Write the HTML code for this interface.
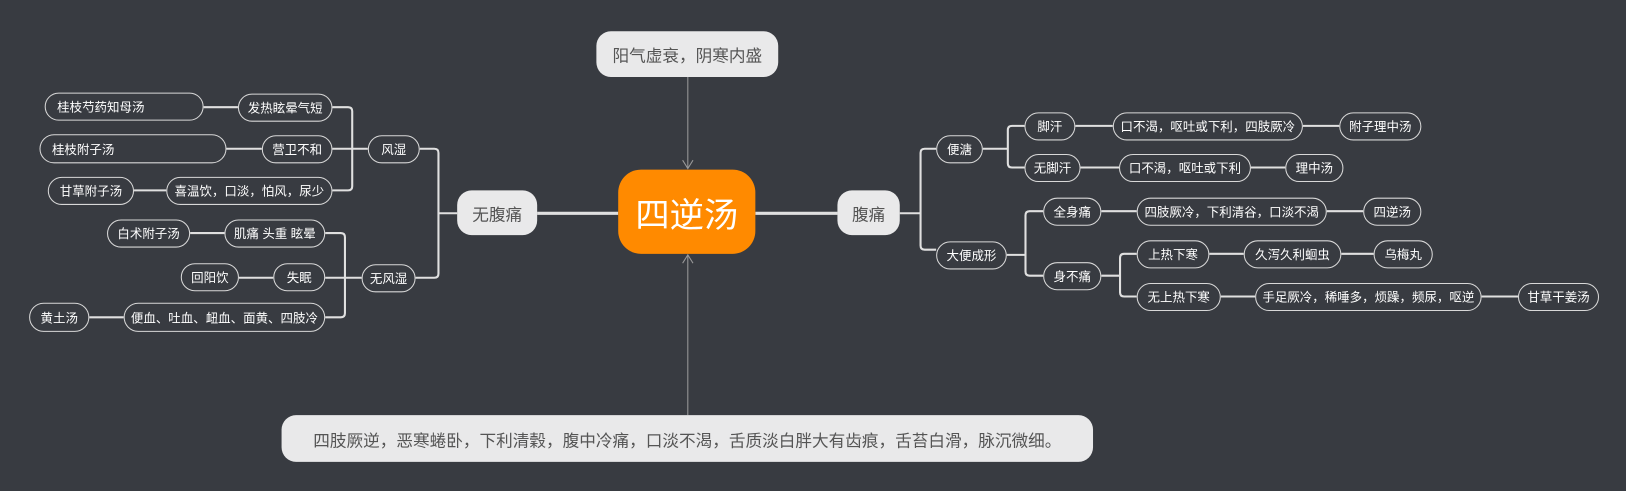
<!DOCTYPE html>
<html><head><meta charset="utf-8"><style>
html,body{margin:0;padding:0;background:#383b41;width:1626px;height:491px;overflow:hidden}
#w{position:absolute;left:0;top:0;width:1565px;height:472px;transform:scale(1.039,1.0403);transform-origin:0 0;font-family:"Liberation Sans","Noto Sans CJK SC",sans-serif}
.n{position:absolute;box-sizing:border-box;border:1px solid #d8d8d8;border-radius:14px;color:#fff;font-size:12px;display:flex;align-items:center;justify-content:center;white-space:nowrap;background:#383b41}
.l{justify-content:flex-start;padding-left:11px}
.b{position:absolute;box-sizing:border-box;background:#e9e9ea;color:#555;display:flex;align-items:center;justify-content:center;white-space:nowrap}
svg{position:absolute;left:0;top:0}
</style></head><body><div id="w">
<svg width="1565" height="472">
<g stroke="#e0e0e0" stroke-width="2" fill="none">
<line x1="517" y1="205" x2="595" y2="205" stroke-width="3"/>
<line x1="727" y1="205" x2="806" y2="205" stroke-width="3"/>
<path d="M440 205H422M404 143H418Q422 143 422 147V263Q422 267 418 267H400"/>
<path d="M354 143H320M320 103H335Q339 103 339 107V179Q339 183 335 183H320"/>
<path d="M196 103H229M218 143H252M129 183H160"/>
<path d="M348 267H313M313 224H328Q332 224 332 228V301Q332 305 328 305H313"/>
<path d="M183 224H216M230 267H263M86 305H119"/>
<path d="M866 205H886M901 143H890Q886 143 886 147V236Q886 240 890 240H901"/>
<path d="M946 143H970M986 121H974Q970 121 970 125V157Q970 161 974 161H986"/>
<path d="M1035 121H1071M1254 121H1289M1040 161H1077M1204 161H1237"/>
<path d="M969 245H987M1004 203H991Q987 203 987 207V261Q987 265 991 265H1004"/>
<path d="M1060 203H1094M1277 203H1312"/>
<path d="M1060 265H1078M1094 244H1082Q1078 244 1078 248V281Q1078 285 1082 285H1094"/>
<path d="M1164 244H1197M1291 244H1322M1175 285H1208M1426 285H1461"/>
</g>
<g stroke="#9a9a9a" stroke-width="1" fill="none">
<line x1="662" y1="74" x2="662" y2="162"/><line x1="662" y1="399" x2="662" y2="245"/>
<path d="M657 154L662 162L667 154M657 253L662 245L667 253"/>
</g>
</svg>
<div class="b" style="left:574px;top:30px;width:175px;height:44px;border-radius:14px;font-size:16px">阳气虚衰，阴寒内盛</div>
<div class="b" style="left:271px;top:399px;width:781px;height:45px;border-radius:14px;font-size:16px">四肢厥逆，恶寒蜷卧，下利清穀，腹中冷痛，口淡不渴，舌质淡白胖大有齿痕，舌苔白滑，脉沉微细。</div>
<div class="b" style="left:595px;top:163px;width:132px;height:81px;border-radius:22px;background:#ff8a00;color:#fff;font-size:33px">四逆汤</div>
<div class="b" style="left:440px;top:183px;width:77px;height:43px;border-radius:14px;font-size:16px">无腹痛</div>
<div class="b" style="left:806px;top:183px;width:60px;height:43px;border-radius:14px;font-size:16px">腹痛</div>

<div class="n" style="left:354px;top:130px;width:50px;height:27px">风湿</div>
<div class="n" style="left:348px;top:254px;width:52px;height:27px">无风湿</div>
<div class="n" style="left:229px;top:90px;width:91px;height:27px">发热眩晕气短</div>
<div class="n" style="left:252px;top:130px;width:68px;height:27px">营卫不和</div>
<div class="n" style="left:160px;top:170px;width:160px;height:27px">喜温饮，口淡，怕风，尿少</div>
<div class="n l" style="left:43px;top:89px;width:153px;height:27px">桂枝芍药知母汤</div>
<div class="n l" style="left:38px;top:129px;width:180px;height:28px">桂枝附子汤</div>
<div class="n" style="left:46px;top:170px;width:83px;height:27px">甘草附子汤</div>
<div class="n" style="left:216px;top:211px;width:97px;height:27px">肌痛 头重 眩晕</div>
<div class="n" style="left:263px;top:253px;width:50px;height:27px">失眠</div>
<div class="n" style="left:119px;top:291px;width:194px;height:28px">便血、吐血、衄血、面黄、四肢冷</div>
<div class="n" style="left:103px;top:211px;width:80px;height:27px">白术附子汤</div>
<div class="n" style="left:174px;top:253px;width:56px;height:27px">回阳饮</div>
<div class="n" style="left:28px;top:291px;width:58px;height:28px">黄土汤</div>

<div class="n" style="left:901px;top:130px;width:45px;height:27px">便溏</div>
<div class="n" style="left:901px;top:232px;width:68px;height:27px">大便成形</div>
<div class="n" style="left:986px;top:108px;width:49px;height:27px">脚汗</div>
<div class="n" style="left:986px;top:148px;width:54px;height:27px">无脚汗</div>
<div class="n" style="left:1071px;top:108px;width:183px;height:27px">口不渴，呕吐或下利，四肢厥冷</div>
<div class="n" style="left:1289px;top:108px;width:79px;height:27px">附子理中汤</div>
<div class="n" style="left:1077px;top:148px;width:127px;height:27px">口不渴，呕吐或下利</div>
<div class="n" style="left:1237px;top:148px;width:56px;height:27px">理中汤</div>
<div class="n" style="left:1004px;top:190px;width:56px;height:27px">全身痛</div>
<div class="n" style="left:1004px;top:252px;width:56px;height:27px">身不痛</div>
<div class="n" style="left:1094px;top:190px;width:183px;height:27px">四肢厥冷，下利清谷，口淡不渴</div>
<div class="n" style="left:1312px;top:190px;width:56px;height:27px">四逆汤</div>
<div class="n" style="left:1094px;top:231px;width:70px;height:27px">上热下寒</div>
<div class="n" style="left:1094px;top:272px;width:81px;height:27px">无上热下寒</div>
<div class="n" style="left:1197px;top:231px;width:94px;height:27px">久泻久利蛔虫</div>
<div class="n" style="left:1322px;top:231px;width:57px;height:27px">乌梅丸</div>
<div class="n" style="left:1208px;top:272px;width:218px;height:27px">手足厥冷，稀唾多，烦躁，频尿，呕逆</div>
<div class="n" style="left:1461px;top:272px;width:78px;height:27px">甘草干姜汤</div>
</div></body></html>
